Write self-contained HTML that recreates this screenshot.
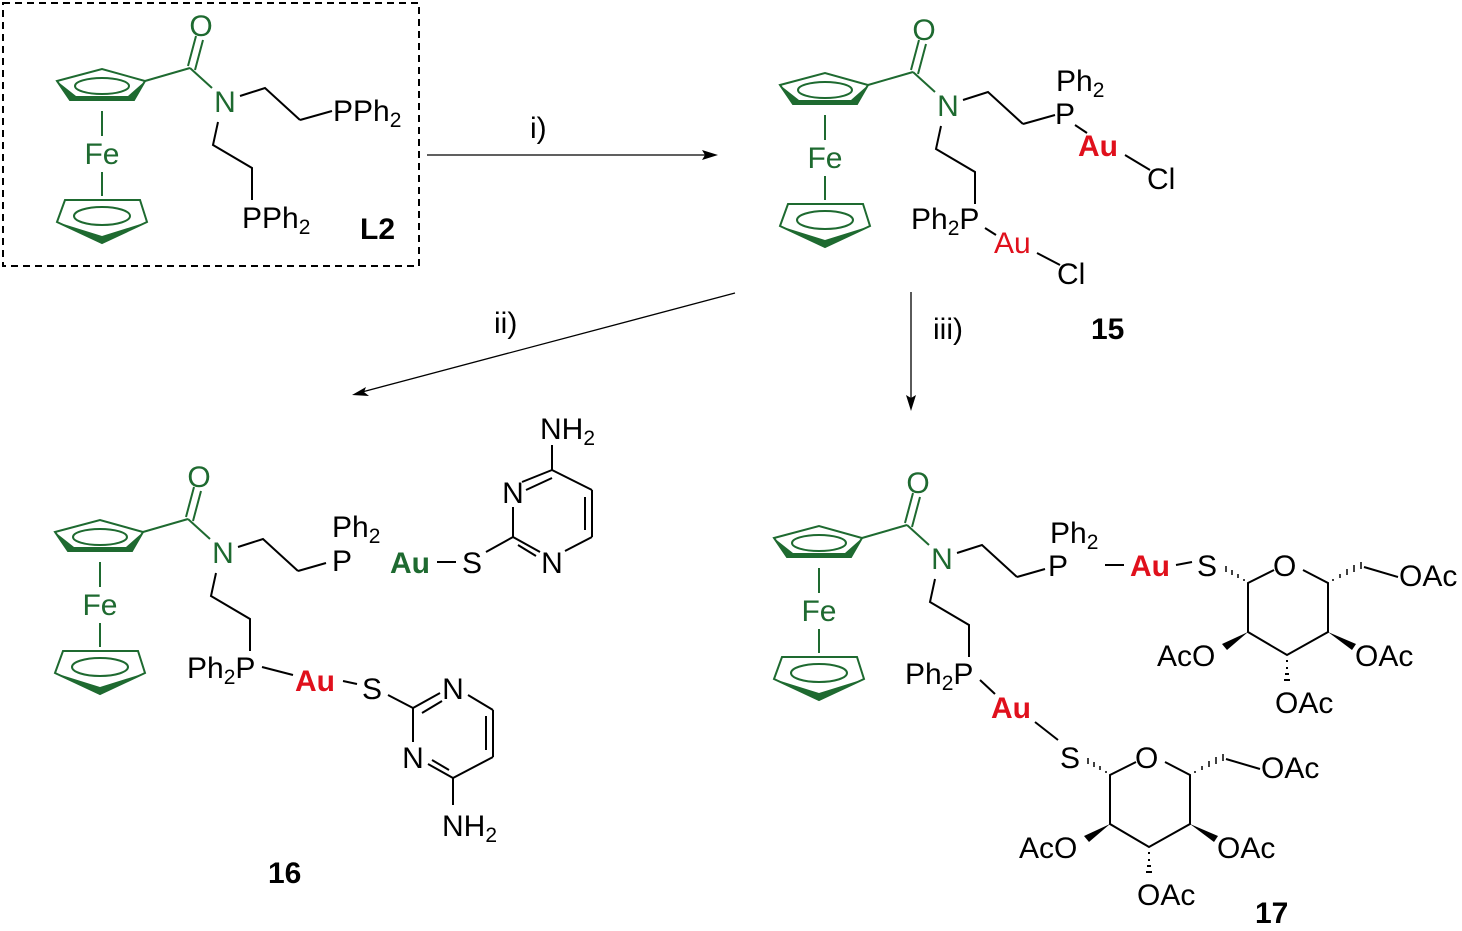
<!DOCTYPE html>
<html><head><meta charset="utf-8"><style>body{margin:0;background:#fff}svg{display:block}text{font-family:"Liberation Sans",sans-serif;font-size:30px}</style></head><body>
<svg width="1462" height="931" viewBox="0 0 1462 931" xmlns="http://www.w3.org/2000/svg">
<rect x="3" y="3" width="416" height="263" fill="none" stroke="#000" stroke-width="2" stroke-dasharray="7,5"/>
<g id="c0">
<g fill="none" stroke="#1e6a30" stroke-width="2">
<polygon points="57,81 102,69 145,81 134,100 70,100"/>
<ellipse cx="102" cy="86" rx="27" ry="8"/>
<line x1="102" y1="111" x2="102" y2="136"/><line x1="102" y1="172" x2="102" y2="196"/>
<polygon points="65,200 140,200 147,222 102,243 57,222"/>
<ellipse cx="102" cy="216" rx="28" ry="9"/>
<line x1="145" y1="81" x2="190" y2="68"/><line x1="190" y1="68" x2="212" y2="88"/>
<line x1="188" y1="66" x2="196" y2="36"/><line x1="195" y1="70" x2="203" y2="40"/>
</g>
<polygon points="57,81 70,100 134,100 145,81 128,96 76,96" fill="#1e6a30"/>
<polygon points="57,222 102,243 147,222 102,236" fill="#1e6a30"/>
<text x="102" y="164" text-anchor="middle" fill="#1e6a30">Fe</text>
<text x="201" y="36" text-anchor="middle" fill="#1e6a30">O</text>
<text x="225" y="112" text-anchor="middle" fill="#1e6a30">N</text>
<polyline points="240,96 265,88 300,120" fill="none" stroke="#000" stroke-width="2"/>
<polyline points="218,122 213,145 252,168 252,200" fill="none" stroke="#000" stroke-width="2"/>
</g>
<line x1="300" y1="120" x2="332" y2="111" stroke="#000" stroke-width="2"/>
<text x="333" y="121">PPh<tspan font-size="21" dy="6">2</tspan></text>
<text x="242" y="228">PPh<tspan font-size="21" dy="6">2</tspan></text>
<text x="360" y="239" font-weight="bold">L2</text>

<g stroke="#000" stroke-width="1.3">
<line x1="427" y1="155" x2="708" y2="155"/>
<line x1="735" y1="293" x2="362" y2="392"/>
<line x1="911" y1="292" x2="911" y2="400"/>
</g>
<polygon points="718,155 702,150 705,155 702,160" fill="#000"/>
<polygon points="352,395 366,387 364,392 369,396" fill="#000"/>
<polygon points="911,411 906,395 911,398 916,395" fill="#000"/>
<text x="530" y="138">i)</text>
<text x="494" y="333">ii)</text>
<text x="933" y="339">iii)</text>

<g transform="translate(723,4)"><use href="#c0"/></g>
<polyline points="1023,124 1055,115" fill="none" stroke="#000" stroke-width="2"/>
<text x="1055" y="124">P</text>
<text x="1056" y="91">Ph<tspan font-size="21" dy="6">2</tspan></text>
<line x1="1075" y1="125" x2="1087" y2="133" stroke="#000" stroke-width="2"/>
<text x="1078" y="156" font-weight="bold" fill="#e0101c">Au</text>
<line x1="1125" y1="155" x2="1150" y2="170" stroke="#000" stroke-width="2"/>
<text x="1147" y="189">Cl</text>
<text x="911" y="229">Ph<tspan font-size="21" dy="6">2</tspan><tspan dy="-6">P</tspan></text>
<line x1="985" y1="228" x2="996" y2="235" stroke="#000" stroke-width="2"/>
<text x="994" y="253" fill="#e0101c">Au</text>
<line x1="1037" y1="253" x2="1060" y2="265" stroke="#000" stroke-width="2"/>
<text x="1057" y="284">Cl</text>
<text x="1091" y="339" font-weight="bold">15</text>

<g transform="translate(-2,451)"><use href="#c0"/></g>
<line x1="298" y1="571" x2="326" y2="563" stroke="#000" stroke-width="2"/>
<text x="332" y="571">P</text>
<text x="332" y="537">Ph<tspan font-size="21" dy="6">2</tspan></text>
<text x="390" y="573" font-weight="bold" fill="#1e6a30">Au</text>
<line x1="437" y1="562" x2="456" y2="562" stroke="#000" stroke-width="2"/>
<text x="462" y="573">S</text>
<g fill="none" stroke="#000" stroke-width="2">
<line x1="486" y1="552" x2="513" y2="537"/><line x1="513" y1="537" x2="513" y2="507"/>
<line x1="522" y1="482" x2="552" y2="470"/><line x1="526" y1="490" x2="552" y2="478"/>
<line x1="552" y1="470" x2="592" y2="490"/><line x1="592" y1="490" x2="592" y2="537"/><line x1="585" y1="497" x2="585" y2="530"/>
<line x1="592" y1="537" x2="565" y2="551"/><line x1="513" y1="537" x2="540" y2="552"/><line x1="518" y1="545" x2="536" y2="556"/>
<line x1="552" y1="470" x2="552" y2="445"/>
</g>
<text x="513" y="503" text-anchor="middle">N</text>
<text x="552" y="573" text-anchor="middle">N</text>
<text x="540" y="439">NH<tspan font-size="21" dy="6">2</tspan></text>
<text x="187" y="678">Ph<tspan font-size="21" dy="6">2</tspan><tspan dy="-6">P</tspan></text>
<line x1="262" y1="667" x2="293" y2="675" stroke="#000" stroke-width="2"/>
<text x="295" y="691" font-weight="bold" fill="#e0101c">Au</text>
<line x1="343" y1="681" x2="357" y2="684" stroke="#000" stroke-width="2"/>
<text x="362" y="699">S</text>
<g fill="none" stroke="#000" stroke-width="2">
<line x1="388" y1="695" x2="413" y2="708"/><line x1="413" y1="708" x2="413" y2="742"/>
<line x1="413" y1="708" x2="440" y2="693"/><line x1="422" y1="713" x2="442" y2="701"/>
<line x1="468" y1="695" x2="493" y2="710"/><line x1="493" y1="710" x2="493" y2="757"/><line x1="486" y1="716" x2="486" y2="750"/>
<line x1="493" y1="757" x2="453" y2="778"/><line x1="453" y1="778" x2="428" y2="764"/><line x1="449" y1="770" x2="432" y2="760"/>
<line x1="453" y1="778" x2="453" y2="805"/>
</g>
<text x="453" y="699" text-anchor="middle">N</text>
<text x="413" y="768" text-anchor="middle">N</text>
<text x="442" y="836">NH<tspan font-size="21" dy="6">2</tspan></text>
<text x="268" y="883" font-weight="bold">16</text>

<g transform="translate(717,457)"><use href="#c0"/></g>
<line x1="1017" y1="577" x2="1045" y2="569" stroke="#000" stroke-width="2"/>
<text x="1048" y="576">P</text>
<text x="1050" y="543">Ph<tspan font-size="21" dy="6">2</tspan></text>
<line x1="1105" y1="565" x2="1124" y2="565" stroke="#000" stroke-width="2"/>
<text x="1130" y="576" font-weight="bold" fill="#e0101c">Au</text>
<line x1="1176" y1="565" x2="1192" y2="562" stroke="#000" stroke-width="2"/>
<text x="1197" y="576">S</text>
<g id="sug">
<g fill="none" stroke="#000" stroke-width="2">
<polyline points="1274,570 1248,583 1248,632 1287,655 1328,632 1328,583 1303,570"/>
<line x1="1364" y1="567" x2="1398" y2="577"/>
<line x1="1287" y1="660" x2="1287" y2="662"/><line x1="1286" y1="668" x2="1288" y2="668"/><line x1="1285" y1="674" x2="1289" y2="674"/><line x1="1284" y1="680" x2="1290" y2="680"/>
</g>
<g stroke="#000" stroke-width="1.5">
<line x1="1244" y1="581" x2="1244" y2="579"/><line x1="1238" y1="578" x2="1238" y2="574"/><line x1="1232" y1="575" x2="1232" y2="570"/><line x1="1226" y1="572" x2="1226" y2="566"/>
<line x1="1333" y1="581" x2="1333" y2="579"/><line x1="1340" y1="578" x2="1340" y2="574"/><line x1="1347" y1="575" x2="1347" y2="569"/><line x1="1354" y1="572" x2="1354" y2="565"/><line x1="1361" y1="569" x2="1361" y2="562"/>
</g>
<polygon points="1248,632 1222,644 1227,650" fill="#000"/>
<polygon points="1328,632 1352,650 1356,644" fill="#000"/>
<text x="1273" y="576">O</text>
<text x="1399" y="586">OAc</text>
<text x="1157" y="666">AcO</text>
<text x="1355" y="666">OAc</text>
<text x="1275" y="713">OAc</text>
</g>
<text x="905" y="684">Ph<tspan font-size="21" dy="6">2</tspan><tspan dy="-6">P</tspan></text>
<line x1="980" y1="680" x2="995" y2="694" stroke="#000" stroke-width="2"/>
<text x="991" y="718" font-weight="bold" fill="#e0101c">Au</text>
<line x1="1035" y1="722" x2="1058" y2="740" stroke="#000" stroke-width="2"/>
<text x="1060" y="768">S</text>
<g transform="translate(-138,192)"><use href="#sug"/></g>
<text x="1255" y="923" font-weight="bold">17</text>
</svg>
</body></html>
